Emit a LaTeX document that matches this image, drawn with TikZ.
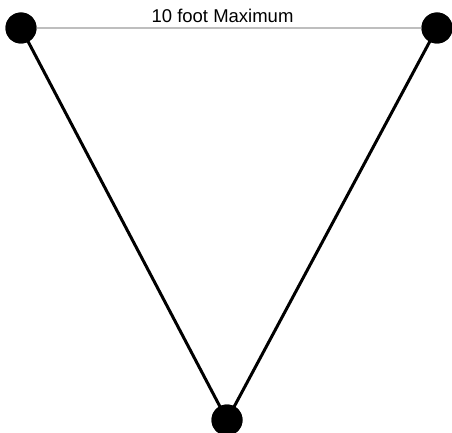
\documentclass[tikz,border=0pt]{standalone}
\usepackage{fontspec}
\setmainfont{Liberation Sans}
\begin{document}
\begin{tikzpicture}[x=1pt,y=-1pt,
  dot/.style={circle,fill=black,inner sep=0pt,minimum size=31pt},
  leg/.style={line width=3pt,black},
  span/.style={line width=2.4pt,color={rgb,255:red,190;green,190;blue,190}}]
\useasboundingbox (0,0) rectangle (452,433);
\node[dot] (a) at (21,28) {};
\node[dot] (b) at (437,28) {};
\node[dot] (c) at (227,420) {};
\draw[span] (a.center) -- (b.center);
\draw[leg] (a.center) -- (c.center);
\draw[leg] (b.center) -- (c.center);
\node[dot] at (a) {};
\node[dot] at (b) {};
\node[dot] at (c) {};
\node[anchor=base,inner sep=0pt,font=\fontsize{18.5}{20}\selectfont] (t) at (222.5,22.5) {10 foot Maximum};
\end{tikzpicture}
\end{document}
